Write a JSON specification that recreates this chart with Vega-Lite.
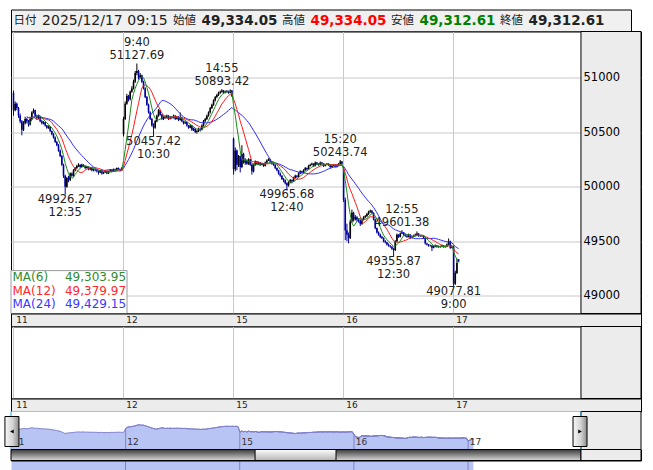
{
"$schema": "https://vega.github.io/schema/vega-lite/v6.json",
"padding": {"left": 4, "top": 8.5, "right": 0, "bottom": 0},
"background": "white",
"spacing": 0,
"bounds": "flush",
"config": {"view": {"stroke": null}, "font": "DejaVu Sans"},
"datasets": {
"hdr": [{"k":"日付","v":"2025/12/17 09:15"},{"k":"始値","v":"49,334.05"},{"k":"高値","v":"49,334.05"},{"k":"安値","v":"49,312.61"},{"k":"終値","v":"49,312.61"}],
"one": [{}],
"days": [{"i":-0.5,"d":"11"},{"i":65.5,"d":"12"},{"i":131.5,"d":"15"},{"i":197.5,"d":"16"},{"i":263.5,"d":"17"}],
"mal": [{"ma":"m6","name":"MA(6)","val":"49,303.95"},{"ma":"m12","name":"MA(12)","val":"49,379.97"},{"ma":"m24","name":"MA(24)","val":"49,429.15"}],
"ann": [{"i":74,"v":51127.69,"t":"9:40","s":"hi"},{"i":125,"v":50893.42,"t":"14:55","s":"hi"},{"i":196,"v":50243.74,"t":"15:20","s":"hi"},{"i":233,"v":49601.38,"t":"12:55","s":"hi"},{"i":31,"v":49926.27,"t":"12:35","s":"lo"},{"i":84,"v":50457.42,"t":"10:30","s":"lo"},{"i":164,"v":49965.68,"t":"12:40","s":"lo"},{"i":228,"v":49355.87,"t":"12:30","s":"lo"},{"i":264,"v":49077.81,"t":"9:00","s":"lo"}],
"k": [
{"i":0,"d":11,"o":50860,"h":50880,"l":50650,"c":50700},
{"i":1,"d":11,"o":50700,"h":50780,"l":50690,"c":50760},
{"i":2,"d":11,"o":50760,"h":50770,"l":50700,"c":50720},
{"i":3,"d":11,"o":50720,"h":50730,"l":50630,"c":50650},
{"i":4,"d":11,"o":50650,"h":50670,"l":50580,"c":50600},
{"i":5,"d":11,"o":50600,"h":50610,"l":50470,"c":50520},
{"i":6,"d":11,"o":50520,"h":50600,"l":50510,"c":50580},
{"i":7,"d":11,"o":50580,"h":50640,"l":50570,"c":50620},
{"i":8,"d":11,"o":50620,"h":50630,"l":50580,"c":50600},
{"i":9,"d":11,"o":50600,"h":50610,"l":50550,"c":50570},
{"i":10,"d":11,"o":50570,"h":50640,"l":50560,"c":50620},
{"i":11,"d":11,"o":50620,"h":50690,"l":50610,"c":50680},
{"i":12,"d":11,"o":50680,"h":50716,"l":50670,"c":50700},
{"i":13,"d":11,"o":50700,"h":50705,"l":50640,"c":50650},
{"i":14,"d":11,"o":50650,"h":50660,"l":50610,"c":50630},
{"i":15,"d":11,"o":50630,"h":50660,"l":50620,"c":50640},
{"i":16,"d":11,"o":50640,"h":50645,"l":50590,"c":50600},
{"i":17,"d":11,"o":50600,"h":50610,"l":50570,"c":50580},
{"i":18,"d":11,"o":50580,"h":50600,"l":50570,"c":50590},
{"i":19,"d":11,"o":50590,"h":50595,"l":50550,"c":50560},
{"i":20,"d":11,"o":50560,"h":50565,"l":50530,"c":50540},
{"i":21,"d":11,"o":50540,"h":50560,"l":50530,"c":50550},
{"i":22,"d":11,"o":50550,"h":50555,"l":50500,"c":50510},
{"i":23,"d":11,"o":50510,"h":50515,"l":50470,"c":50480},
{"i":24,"d":11,"o":50480,"h":50490,"l":50440,"c":50450},
{"i":25,"d":11,"o":50450,"h":50460,"l":50400,"c":50410},
{"i":26,"d":11,"o":50410,"h":50420,"l":50370,"c":50380},
{"i":27,"d":11,"o":50380,"h":50390,"l":50320,"c":50330},
{"i":28,"d":11,"o":50330,"h":50340,"l":50270,"c":50280},
{"i":29,"d":11,"o":50280,"h":50290,"l":50190,"c":50200},
{"i":30,"d":11,"o":50200,"h":50210,"l":50080,"c":50100},
{"i":31,"d":11,"o":50100,"h":50110,"l":49926.27,"c":50000},
{"i":32,"d":11,"o":50000,"h":50090,"l":49990,"c":50080},
{"i":33,"d":11,"o":50080,"h":50100,"l":50040,"c":50060},
{"i":34,"d":11,"o":50060,"h":50130,"l":50050,"c":50120},
{"i":35,"d":11,"o":50120,"h":50130,"l":50090,"c":50100},
{"i":36,"d":11,"o":50100,"h":50160,"l":50090,"c":50150},
{"i":37,"d":11,"o":50150,"h":50180,"l":50140,"c":50170},
{"i":38,"d":11,"o":50170,"h":50200,"l":50160,"c":50190},
{"i":39,"d":11,"o":50190,"h":50215,"l":50180,"c":50200},
{"i":40,"d":11,"o":50200,"h":50205,"l":50170,"c":50180},
{"i":41,"d":11,"o":50180,"h":50210,"l":50175,"c":50200},
{"i":42,"d":11,"o":50200,"h":50205,"l":50180,"c":50190},
{"i":43,"d":11,"o":50190,"h":50195,"l":50160,"c":50170},
{"i":44,"d":11,"o":50170,"h":50190,"l":50165,"c":50180},
{"i":45,"d":11,"o":50180,"h":50185,"l":50150,"c":50160},
{"i":46,"d":11,"o":50160,"h":50175,"l":50150,"c":50170},
{"i":47,"d":11,"o":50170,"h":50175,"l":50140,"c":50150},
{"i":48,"d":11,"o":50150,"h":50165,"l":50140,"c":50160},
{"i":49,"d":11,"o":50160,"h":50165,"l":50140,"c":50150},
{"i":50,"d":11,"o":50150,"h":50155,"l":50130,"c":50140},
{"i":51,"d":11,"o":50140,"h":50145,"l":50110,"c":50130},
{"i":52,"d":11,"o":50130,"h":50155,"l":50125,"c":50150},
{"i":53,"d":11,"o":50150,"h":50155,"l":50110,"c":50120},
{"i":54,"d":11,"o":50120,"h":50135,"l":50115,"c":50130},
{"i":55,"d":11,"o":50130,"h":50145,"l":50125,"c":50140},
{"i":56,"d":11,"o":50140,"h":50145,"l":50115,"c":50120},
{"i":57,"d":11,"o":50120,"h":50145,"l":50115,"c":50140},
{"i":58,"d":11,"o":50140,"h":50160,"l":50135,"c":50150},
{"i":59,"d":11,"o":50150,"h":50155,"l":50130,"c":50140},
{"i":60,"d":11,"o":50140,"h":50165,"l":50135,"c":50160},
{"i":61,"d":11,"o":50160,"h":50165,"l":50140,"c":50150},
{"i":62,"d":11,"o":50150,"h":50175,"l":50145,"c":50170},
{"i":63,"d":11,"o":50170,"h":50175,"l":50150,"c":50160},
{"i":64,"d":11,"o":50160,"h":50165,"l":50140,"c":50150},
{"i":65,"d":11,"o":50150,"h":50180,"l":50145,"c":50170},
{"i":66,"d":12,"o":50480,"h":50640,"l":50460,"c":50620},
{"i":67,"d":12,"o":50620,"h":50780,"l":50610,"c":50760},
{"i":68,"d":12,"o":50760,"h":50850,"l":50750,"c":50830},
{"i":69,"d":12,"o":50830,"h":50840,"l":50780,"c":50800},
{"i":70,"d":12,"o":50800,"h":50880,"l":50790,"c":50870},
{"i":71,"d":12,"o":50870,"h":50920,"l":50860,"c":50900},
{"i":72,"d":12,"o":50900,"h":50980,"l":50890,"c":50960},
{"i":73,"d":12,"o":50960,"h":51060,"l":50950,"c":51040},
{"i":74,"d":12,"o":51040,"h":51127.69,"l":51020,"c":51060},
{"i":75,"d":12,"o":51060,"h":51070,"l":50980,"c":51000},
{"i":76,"d":12,"o":51000,"h":51040,"l":50990,"c":51020},
{"i":77,"d":12,"o":51020,"h":51025,"l":50950,"c":50960},
{"i":78,"d":12,"o":50960,"h":50970,"l":50890,"c":50900},
{"i":79,"d":12,"o":50900,"h":50910,"l":50810,"c":50820},
{"i":80,"d":12,"o":50820,"h":50830,"l":50740,"c":50750},
{"i":81,"d":12,"o":50750,"h":50760,"l":50670,"c":50680},
{"i":82,"d":12,"o":50680,"h":50690,"l":50610,"c":50620},
{"i":83,"d":12,"o":50620,"h":50630,"l":50550,"c":50560},
{"i":84,"d":12,"o":50560,"h":50580,"l":50457.42,"c":50540},
{"i":85,"d":12,"o":50540,"h":50610,"l":50530,"c":50600},
{"i":86,"d":12,"o":50600,"h":50660,"l":50590,"c":50650},
{"i":87,"d":12,"o":50650,"h":50710,"l":50640,"c":50700},
{"i":88,"d":12,"o":50700,"h":50705,"l":50650,"c":50660},
{"i":89,"d":12,"o":50660,"h":50665,"l":50610,"c":50620},
{"i":90,"d":12,"o":50620,"h":50650,"l":50610,"c":50640},
{"i":91,"d":12,"o":50640,"h":50645,"l":50620,"c":50630},
{"i":92,"d":12,"o":50630,"h":50660,"l":50625,"c":50650},
{"i":93,"d":12,"o":50650,"h":50655,"l":50610,"c":50620},
{"i":94,"d":12,"o":50620,"h":50645,"l":50615,"c":50640},
{"i":95,"d":12,"o":50640,"h":50645,"l":50620,"c":50630},
{"i":96,"d":12,"o":50630,"h":50660,"l":50625,"c":50650},
{"i":97,"d":12,"o":50650,"h":50655,"l":50610,"c":50620},
{"i":98,"d":12,"o":50620,"h":50645,"l":50615,"c":50640},
{"i":99,"d":12,"o":50640,"h":50645,"l":50600,"c":50610},
{"i":100,"d":12,"o":50610,"h":50680,"l":50605,"c":50630},
{"i":101,"d":12,"o":50630,"h":50640,"l":50590,"c":50600},
{"i":102,"d":12,"o":50600,"h":50605,"l":50570,"c":50580},
{"i":103,"d":12,"o":50580,"h":50600,"l":50575,"c":50590},
{"i":104,"d":12,"o":50590,"h":50595,"l":50550,"c":50560},
{"i":105,"d":12,"o":50560,"h":50565,"l":50530,"c":50540},
{"i":106,"d":12,"o":50540,"h":50570,"l":50535,"c":50560},
{"i":107,"d":12,"o":50560,"h":50565,"l":50510,"c":50520},
{"i":108,"d":12,"o":50520,"h":50540,"l":50510,"c":50530},
{"i":109,"d":12,"o":50530,"h":50535,"l":50490,"c":50500},
{"i":110,"d":12,"o":50500,"h":50520,"l":50485,"c":50510},
{"i":111,"d":12,"o":50510,"h":50540,"l":50500,"c":50530},
{"i":112,"d":12,"o":50530,"h":50535,"l":50505,"c":50520},
{"i":113,"d":12,"o":50520,"h":50570,"l":50515,"c":50560},
{"i":114,"d":12,"o":50560,"h":50610,"l":50550,"c":50600},
{"i":115,"d":12,"o":50600,"h":50630,"l":50590,"c":50620},
{"i":116,"d":12,"o":50620,"h":50660,"l":50610,"c":50650},
{"i":117,"d":12,"o":50650,"h":50690,"l":50640,"c":50680},
{"i":118,"d":12,"o":50680,"h":50730,"l":50670,"c":50720},
{"i":119,"d":12,"o":50720,"h":50760,"l":50710,"c":50750},
{"i":120,"d":12,"o":50750,"h":50800,"l":50740,"c":50790},
{"i":121,"d":12,"o":50790,"h":50830,"l":50780,"c":50820},
{"i":122,"d":12,"o":50820,"h":50850,"l":50810,"c":50840},
{"i":123,"d":12,"o":50840,"h":50870,"l":50830,"c":50860},
{"i":124,"d":12,"o":50860,"h":50880,"l":50850,"c":50870},
{"i":125,"d":12,"o":50870,"h":50893.42,"l":50860,"c":50880},
{"i":126,"d":12,"o":50880,"h":50885,"l":50850,"c":50860},
{"i":127,"d":12,"o":50860,"h":50880,"l":50855,"c":50870},
{"i":128,"d":12,"o":50870,"h":50885,"l":50860,"c":50875},
{"i":129,"d":12,"o":50875,"h":50880,"l":50850,"c":50860},
{"i":130,"d":12,"o":50860,"h":50890,"l":50855,"c":50880},
{"i":131,"d":12,"o":50880,"h":50885,"l":50820,"c":50830},
{"i":132,"d":15,"o":50440,"h":50450,"l":50110,"c":50160},
{"i":133,"d":15,"o":50160,"h":50360,"l":50140,"c":50330},
{"i":134,"d":15,"o":50330,"h":50340,"l":50150,"c":50200},
{"i":135,"d":15,"o":50200,"h":50290,"l":50180,"c":50280},
{"i":136,"d":15,"o":50280,"h":50285,"l":50130,"c":50180},
{"i":137,"d":15,"o":50180,"h":50380,"l":50170,"c":50300},
{"i":138,"d":15,"o":50300,"h":50310,"l":50210,"c":50220},
{"i":139,"d":15,"o":50220,"h":50260,"l":50200,"c":50240},
{"i":140,"d":15,"o":50240,"h":50250,"l":50200,"c":50210},
{"i":141,"d":15,"o":50210,"h":50260,"l":50200,"c":50250},
{"i":142,"d":15,"o":50250,"h":50255,"l":50190,"c":50200},
{"i":143,"d":15,"o":50200,"h":50210,"l":50110,"c":50140},
{"i":144,"d":15,"o":50140,"h":50210,"l":50130,"c":50200},
{"i":145,"d":15,"o":50200,"h":50240,"l":50190,"c":50230},
{"i":146,"d":15,"o":50230,"h":50235,"l":50200,"c":50210},
{"i":147,"d":15,"o":50210,"h":50230,"l":50200,"c":50220},
{"i":148,"d":15,"o":50220,"h":50225,"l":50190,"c":50200},
{"i":149,"d":15,"o":50200,"h":50220,"l":50195,"c":50210},
{"i":150,"d":15,"o":50210,"h":50215,"l":50180,"c":50190},
{"i":151,"d":15,"o":50190,"h":50230,"l":50185,"c":50220},
{"i":152,"d":15,"o":50220,"h":50250,"l":50215,"c":50240},
{"i":153,"d":15,"o":50240,"h":50260,"l":50235,"c":50250},
{"i":154,"d":15,"o":50250,"h":50255,"l":50220,"c":50230},
{"i":155,"d":15,"o":50230,"h":50235,"l":50200,"c":50210},
{"i":156,"d":15,"o":50210,"h":50215,"l":50190,"c":50200},
{"i":157,"d":15,"o":50200,"h":50205,"l":50160,"c":50170},
{"i":158,"d":15,"o":50170,"h":50175,"l":50140,"c":50150},
{"i":159,"d":15,"o":50150,"h":50155,"l":50110,"c":50120},
{"i":160,"d":15,"o":50120,"h":50130,"l":50090,"c":50100},
{"i":161,"d":15,"o":50100,"h":50105,"l":50060,"c":50070},
{"i":162,"d":15,"o":50070,"h":50080,"l":50040,"c":50060},
{"i":163,"d":15,"o":50060,"h":50065,"l":50020,"c":50030},
{"i":164,"d":15,"o":50030,"h":50040,"l":49965.68,"c":50010},
{"i":165,"d":15,"o":50010,"h":50050,"l":50000,"c":50040},
{"i":166,"d":15,"o":50040,"h":50070,"l":50030,"c":50060},
{"i":167,"d":15,"o":50060,"h":50065,"l":50030,"c":50050},
{"i":168,"d":15,"o":50050,"h":50090,"l":50045,"c":50080},
{"i":169,"d":15,"o":50080,"h":50110,"l":50075,"c":50100},
{"i":170,"d":15,"o":50100,"h":50105,"l":50080,"c":50090},
{"i":171,"d":15,"o":50090,"h":50130,"l":50085,"c":50120},
{"i":172,"d":15,"o":50120,"h":50150,"l":50115,"c":50140},
{"i":173,"d":15,"o":50140,"h":50145,"l":50120,"c":50130},
{"i":174,"d":15,"o":50130,"h":50160,"l":50125,"c":50150},
{"i":175,"d":15,"o":50150,"h":50180,"l":50145,"c":50170},
{"i":176,"d":15,"o":50170,"h":50175,"l":50150,"c":50160},
{"i":177,"d":15,"o":50160,"h":50200,"l":50155,"c":50190},
{"i":178,"d":15,"o":50190,"h":50210,"l":50185,"c":50200},
{"i":179,"d":15,"o":50200,"h":50220,"l":50195,"c":50210},
{"i":180,"d":15,"o":50210,"h":50215,"l":50180,"c":50190},
{"i":181,"d":15,"o":50190,"h":50230,"l":50185,"c":50220},
{"i":182,"d":15,"o":50220,"h":50225,"l":50200,"c":50210},
{"i":183,"d":15,"o":50210,"h":50215,"l":50190,"c":50200},
{"i":184,"d":15,"o":50200,"h":50230,"l":50195,"c":50220},
{"i":185,"d":15,"o":50220,"h":50225,"l":50200,"c":50210},
{"i":186,"d":15,"o":50210,"h":50215,"l":50180,"c":50190},
{"i":187,"d":15,"o":50190,"h":50205,"l":50185,"c":50200},
{"i":188,"d":15,"o":50200,"h":50215,"l":50195,"c":50210},
{"i":189,"d":15,"o":50210,"h":50215,"l":50190,"c":50200},
{"i":190,"d":15,"o":50200,"h":50205,"l":50170,"c":50180},
{"i":191,"d":15,"o":50180,"h":50195,"l":50175,"c":50190},
{"i":192,"d":15,"o":50190,"h":50205,"l":50185,"c":50200},
{"i":193,"d":15,"o":50200,"h":50205,"l":50175,"c":50180},
{"i":194,"d":15,"o":50180,"h":50205,"l":50175,"c":50200},
{"i":195,"d":15,"o":50200,"h":50215,"l":50195,"c":50210},
{"i":196,"d":15,"o":50210,"h":50243.74,"l":50205,"c":50230},
{"i":197,"d":15,"o":50230,"h":50235,"l":50200,"c":50210},
{"i":198,"d":16,"o":50160,"h":50180,"l":49860,"c":49880},
{"i":199,"d":16,"o":49880,"h":49900,"l":49510,"c":49600},
{"i":200,"d":16,"o":49600,"h":49660,"l":49500,"c":49560},
{"i":201,"d":16,"o":49560,"h":49580,"l":49480,"c":49530},
{"i":202,"d":16,"o":49530,"h":49700,"l":49520,"c":49680},
{"i":203,"d":16,"o":49680,"h":49790,"l":49670,"c":49760},
{"i":204,"d":16,"o":49760,"h":49770,"l":49680,"c":49700},
{"i":205,"d":16,"o":49700,"h":49740,"l":49690,"c":49720},
{"i":206,"d":16,"o":49720,"h":49730,"l":49680,"c":49700},
{"i":207,"d":16,"o":49700,"h":49710,"l":49670,"c":49690},
{"i":208,"d":16,"o":49690,"h":49700,"l":49640,"c":49660},
{"i":209,"d":16,"o":49660,"h":49710,"l":49650,"c":49700},
{"i":210,"d":16,"o":49700,"h":49730,"l":49690,"c":49720},
{"i":211,"d":16,"o":49720,"h":49740,"l":49710,"c":49730},
{"i":212,"d":16,"o":49730,"h":49760,"l":49720,"c":49750},
{"i":213,"d":16,"o":49750,"h":49780,"l":49740,"c":49770},
{"i":214,"d":16,"o":49770,"h":49790,"l":49760,"c":49780},
{"i":215,"d":16,"o":49780,"h":49785,"l":49750,"c":49760},
{"i":216,"d":16,"o":49760,"h":49765,"l":49690,"c":49700},
{"i":217,"d":16,"o":49700,"h":49705,"l":49610,"c":49620},
{"i":218,"d":16,"o":49620,"h":49625,"l":49570,"c":49580},
{"i":219,"d":16,"o":49580,"h":49590,"l":49550,"c":49560},
{"i":220,"d":16,"o":49560,"h":49570,"l":49530,"c":49540},
{"i":221,"d":16,"o":49540,"h":49550,"l":49520,"c":49530},
{"i":222,"d":16,"o":49530,"h":49535,"l":49490,"c":49500},
{"i":223,"d":16,"o":49500,"h":49510,"l":49480,"c":49490},
{"i":224,"d":16,"o":49490,"h":49495,"l":49460,"c":49470},
{"i":225,"d":16,"o":49470,"h":49480,"l":49450,"c":49460},
{"i":226,"d":16,"o":49460,"h":49465,"l":49440,"c":49450},
{"i":227,"d":16,"o":49450,"h":49455,"l":49420,"c":49430},
{"i":228,"d":16,"o":49430,"h":49440,"l":49355.87,"c":49420},
{"i":229,"d":16,"o":49420,"h":49510,"l":49410,"c":49500},
{"i":230,"d":16,"o":49500,"h":49570,"l":49490,"c":49560},
{"i":231,"d":16,"o":49560,"h":49565,"l":49530,"c":49540},
{"i":232,"d":16,"o":49540,"h":49580,"l":49535,"c":49570},
{"i":233,"d":16,"o":49570,"h":49601.38,"l":49565,"c":49580},
{"i":234,"d":16,"o":49580,"h":49585,"l":49550,"c":49560},
{"i":235,"d":16,"o":49560,"h":49565,"l":49540,"c":49550},
{"i":236,"d":16,"o":49550,"h":49555,"l":49530,"c":49540},
{"i":237,"d":16,"o":49540,"h":49570,"l":49535,"c":49560},
{"i":238,"d":16,"o":49560,"h":49565,"l":49520,"c":49530},
{"i":239,"d":16,"o":49530,"h":49550,"l":49525,"c":49540},
{"i":240,"d":16,"o":49540,"h":49560,"l":49535,"c":49550},
{"i":241,"d":16,"o":49550,"h":49570,"l":49545,"c":49560},
{"i":242,"d":16,"o":49560,"h":49590,"l":49555,"c":49570},
{"i":243,"d":16,"o":49570,"h":49575,"l":49540,"c":49550},
{"i":244,"d":16,"o":49550,"h":49560,"l":49540,"c":49550},
{"i":245,"d":16,"o":49550,"h":49560,"l":49540,"c":49550},
{"i":246,"d":16,"o":49550,"h":49555,"l":49520,"c":49530},
{"i":247,"d":16,"o":49530,"h":49535,"l":49470,"c":49480},
{"i":248,"d":16,"o":49480,"h":49485,"l":49460,"c":49470},
{"i":249,"d":16,"o":49470,"h":49475,"l":49450,"c":49460},
{"i":250,"d":16,"o":49460,"h":49470,"l":49450,"c":49460},
{"i":251,"d":16,"o":49460,"h":49465,"l":49410,"c":49440},
{"i":252,"d":16,"o":49440,"h":49460,"l":49435,"c":49450},
{"i":253,"d":16,"o":49450,"h":49470,"l":49445,"c":49460},
{"i":254,"d":16,"o":49460,"h":49465,"l":49440,"c":49450},
{"i":255,"d":16,"o":49450,"h":49460,"l":49440,"c":49450},
{"i":256,"d":16,"o":49450,"h":49460,"l":49440,"c":49450},
{"i":257,"d":16,"o":49450,"h":49470,"l":49445,"c":49460},
{"i":258,"d":16,"o":49460,"h":49465,"l":49440,"c":49450},
{"i":259,"d":16,"o":49450,"h":49460,"l":49440,"c":49450},
{"i":260,"d":16,"o":49450,"h":49480,"l":49445,"c":49470},
{"i":261,"d":16,"o":49470,"h":49525,"l":49465,"c":49500},
{"i":262,"d":16,"o":49500,"h":49505,"l":49430,"c":49440},
{"i":263,"d":16,"o":49440,"h":49460,"l":49435,"c":49450},
{"i":264,"d":17,"o":49450,"h":49460,"l":49077.81,"c":49110},
{"i":265,"d":17,"o":49110,"h":49230,"l":49100,"c":49210},
{"i":266,"d":17,"o":49210,"h":49340,"l":49200,"c":49301},
{"i":267,"d":17,"o":49334.05,"h":49334.05,"l":49312.61,"c":49312.61}
]
},
"vconcat": [
{
"width": 620, "height": 22,
"view": {"fill": "#f0f0f0", "stroke": "#000", "strokeWidth": 1},
"data": {"name": "hdr"},
"encoding": {"x": {"field": "k", "type": "nominal", "scale": {"type": "point", "domain": ["日付","始値","高値","安値","終値"], "padding": 0.844, "align": 0.288}, "axis": null}},
"layer": [
{"transform": [{"filter": "datum.k != '日付'"}], "mark": {"type": "text", "align": "left", "baseline": "middle", "font": "Noto Sans CJK JP", "fontSize": 11.5, "color": "#222"}, "encoding": {"text": {"field": "k"}}},
{"transform": [{"filter": "datum.k != '日付'"}], "mark": {"type": "text", "align": "left", "baseline": "middle", "font": "DejaVu Sans", "fontSize": 13.5, "fontWeight": "bold", "dx": 28.5}, "encoding": {"text": {"field": "v"}, "color": {"field": "k", "type": "nominal", "scale": {"domain": ["始値","高値","安値","終値"], "range": ["#222222","#ff0000","#008000","#222222"]}, "legend": null}}},
{"transform": [{"filter": "datum.k == '日付'"}], "mark": {"type": "text", "align": "left", "baseline": "middle", "font": "Noto Sans CJK JP", "fontSize": 11.5, "color": "#222", "dx": -50.4}, "encoding": {"text": {"field": "k"}}},
{"transform": [{"filter": "datum.k == '日付'"}], "mark": {"type": "text", "align": "left", "baseline": "middle", "font": "DejaVu Sans", "fontSize": 14, "color": "#222", "dx": -21.9}, "encoding": {"text": {"field": "v"}}}
]
},
{
"width": 630, "height": 282,
"view": {"fill": "white", "stroke": "#000", "strokeWidth": 1},
"resolve": {"axis": {"y": "independent"}},
"layer": [
{"data": {"name": "k"}, "mark": {"type": "rule", "strokeWidth": 1},
 "encoding": {
  "x": {"field": "i", "type": "quantitative", "scale": {"domain": [-1.5, 376.4], "nice": false, "zero": false}, "axis": {"orient": "bottom", "values": [-0.5, 65.5, 131.5, 197.5, 263.5], "grid": true, "gridColor": "#c8c8c8", "labels": false, "ticks": false, "domain": false, "title": null}},
  "y": {"field": "l", "type": "quantitative", "scale": {"domain": [48838, 51421], "nice": false, "zero": false}, "axis": {"orient": "left", "values": [49000, 49500, 50000, 50500, 51000], "grid": true, "gridColor": "#c8c8c8", "labels": false, "ticks": false, "domain": false, "title": null}},
  "y2": {"field": "h"},
  "color": {"condition": {"test": "datum.c >= datum.o", "value": "#000000"}, "value": "#0000a0"}
 }},
{"data": {"name": "k"}, "mark": {"type": "rule", "strokeWidth": 1.6},
 "encoding": {
  "x": {"field": "i", "type": "quantitative"},
  "y": {"field": "o", "type": "quantitative", "axis": null},
  "y2": {"field": "c"},
  "color": {"condition": {"test": "datum.c >= datum.o", "value": "#000000"}, "value": "#0000a0"}
 }},
{"data": {"name": "k"},
 "transform": [
  {"window": [{"op": "mean", "field": "c", "as": "m24"}], "frame": [-23, 0], "sort": [{"field": "i"}]},
  {"filter": "datum.i >= 8"}
 ],
 "mark": {"type": "line", "strokeWidth": 1, "color": "#2a2aff"},
 "encoding": {"x": {"field": "i", "type": "quantitative"}, "y": {"field": "m24", "type": "quantitative", "axis": null}}},
{"data": {"name": "k"},
 "transform": [
  {"window": [{"op": "mean", "field": "c", "as": "m12"}], "frame": [-11, 0], "sort": [{"field": "i"}]},
  {"filter": "datum.i >= 8"}
 ],
 "mark": {"type": "line", "strokeWidth": 1, "color": "#ff1a1a"},
 "encoding": {"x": {"field": "i", "type": "quantitative"}, "y": {"field": "m12", "type": "quantitative", "axis": null}}},
{"data": {"name": "k"},
 "transform": [
  {"window": [{"op": "mean", "field": "c", "as": "m6"}], "frame": [-5, 0], "sort": [{"field": "i"}]},
  {"filter": "datum.i >= 8"}
 ],
 "mark": {"type": "line", "strokeWidth": 1, "color": "#1a8a1a"},
 "encoding": {"x": {"field": "i", "type": "quantitative"}, "y": {"field": "m6", "type": "quantitative", "axis": null}}},
{"data": {"name": "ann"}, "transform": [{"filter": "datum.s == 'hi'"}],
 "mark": {"type": "text", "align": "center", "baseline": "middle", "fontSize": 11.5, "color": "#222", "dy": -7.5},
 "encoding": {"x": {"field": "i", "type": "quantitative"}, "y": {"field": "v", "type": "quantitative", "axis": null}, "text": {"field": "v", "type": "quantitative", "format": ".2f"}}},
{"data": {"name": "ann"}, "transform": [{"filter": "datum.s == 'hi'"}],
 "mark": {"type": "text", "align": "center", "baseline": "middle", "fontSize": 11.5, "color": "#222", "dy": -20.5},
 "encoding": {"x": {"field": "i", "type": "quantitative"}, "y": {"field": "v", "type": "quantitative", "axis": null}, "text": {"field": "t"}}},
{"data": {"name": "ann"}, "transform": [{"filter": "datum.s == 'lo'"}],
 "mark": {"type": "text", "align": "center", "baseline": "middle", "fontSize": 11.5, "color": "#222", "dy": 5},
 "encoding": {"x": {"field": "i", "type": "quantitative"}, "y": {"field": "v", "type": "quantitative", "axis": null}, "text": {"field": "v", "type": "quantitative", "format": ".2f"}}},
{"data": {"name": "ann"}, "transform": [{"filter": "datum.s == 'lo'"}],
 "mark": {"type": "text", "align": "center", "baseline": "middle", "fontSize": 11.5, "color": "#222", "dy": 18},
 "encoding": {"x": {"field": "i", "type": "quantitative"}, "y": {"field": "v", "type": "quantitative", "axis": null}, "text": {"field": "t"}}},
{"data": {"name": "one"}, "mark": {"type": "rect", "color": "#ffffff", "stroke": "#9a9a9a", "strokeWidth": 1},
 "encoding": {"x": {"datum": -1.5, "type": "quantitative"}, "x2": {"datum": 68.1}, "y": {"datum": 49231, "type": "quantitative", "axis": null}, "y2": {"datum": 48838}}},
{"data": {"name": "mal"}, "transform": [{"filter": "datum.ma == 'm6'"}],
 "encoding": {"y": {"datum": 49176, "type": "quantitative", "axis": null}},
 "layer": [
  {"mark": {"type": "text", "align": "left", "baseline": "middle", "fontSize": 12, "color": "#2e8b2e"}, "encoding": {"x": {"datum": -0.6, "type": "quantitative"}, "text": {"field": "name"}}},
  {"mark": {"type": "text", "align": "right", "baseline": "middle", "fontSize": 12, "color": "#2e8b2e"}, "encoding": {"x": {"datum": 67.5, "type": "quantitative"}, "text": {"field": "val"}}}
 ]},
{"data": {"name": "mal"}, "transform": [{"filter": "datum.ma == 'm12'"}],
 "encoding": {"y": {"datum": 49048, "type": "quantitative", "axis": null}},
 "layer": [
  {"mark": {"type": "text", "align": "left", "baseline": "middle", "fontSize": 12, "color": "#ff2a2a"}, "encoding": {"x": {"datum": -0.6, "type": "quantitative"}, "text": {"field": "name"}}},
  {"mark": {"type": "text", "align": "right", "baseline": "middle", "fontSize": 12, "color": "#ff2a2a"}, "encoding": {"x": {"datum": 67.5, "type": "quantitative"}, "text": {"field": "val"}}}
 ]},
{"data": {"name": "mal"}, "transform": [{"filter": "datum.ma == 'm24'"}],
 "encoding": {"y": {"datum": 48924, "type": "quantitative", "axis": null}},
 "layer": [
  {"mark": {"type": "text", "align": "left", "baseline": "middle", "fontSize": 12, "color": "#3a3aff"}, "encoding": {"x": {"datum": -0.6, "type": "quantitative"}, "text": {"field": "name"}}},
  {"mark": {"type": "text", "align": "right", "baseline": "middle", "fontSize": 12, "color": "#3a3aff"}, "encoding": {"x": {"datum": 67.5, "type": "quantitative"}, "text": {"field": "val"}}}
 ]},
{"data": {"name": "one"}, "mark": {"type": "rect", "color": "#ececec", "stroke": "#000", "strokeWidth": 1},
 "encoding": {"x": {"datum": 340.4, "type": "quantitative"}, "x2": {"datum": 376.4},
  "y": {"datum": 48838, "type": "quantitative", "axis": {"orient": "right", "offset": -60, "values": [49000, 49500, 50000, 50500, 51000], "format": "d", "grid": false, "ticks": false, "tickSize": 0, "domain": false, "labelPadding": 2, "labelFontSize": 11.5, "labelColor": "#000", "labelFont": "DejaVu Sans", "labelBaseline": "middle", "zindex": 1, "title": null}},
  "y2": {"datum": 51421}}}
]
},
{
"width": 630, "height": 13,
"view": {"fill": "#ececec", "stroke": "#000", "strokeWidth": 1},
"data": {"name": "days"},
"mark": {"type": "text", "align": "left", "baseline": "middle", "dx": 3.5, "fontSize": 9, "color": "#222"},
"encoding": {"x": {"field": "i", "type": "quantitative", "scale": {"domain": [-1.5, 376.4], "nice": false, "zero": false}, "axis": null}, "text": {"field": "d"}}
},
{
"width": 630, "height": 72,
"view": {"fill": "white", "stroke": "#000", "strokeWidth": 1},
"data": {"name": "one"},
"mark": {"type": "rect", "color": "#ececec", "stroke": "#000", "strokeWidth": 1},
"encoding": {
 "x": {"datum": 340.4, "type": "quantitative", "scale": {"domain": [-1.5, 376.4], "nice": false, "zero": false}, "axis": {"orient": "bottom", "values": [-0.5, 65.5, 131.5, 197.5, 263.5], "grid": true, "gridColor": "#c8c8c8", "labels": false, "ticks": false, "domain": false, "title": null}},
 "x2": {"datum": 376.4},
 "y": {"datum": 0, "type": "quantitative", "scale": {"domain": [0, 1], "nice": false}, "axis": null},
 "y2": {"datum": 1}}
},
{
"width": 630, "height": 13,
"view": {"fill": "#ececec", "stroke": "#000", "strokeWidth": 1},
"data": {"name": "days"},
"mark": {"type": "text", "align": "left", "baseline": "middle", "dx": 3.5, "fontSize": 9, "color": "#222"},
"encoding": {"x": {"field": "i", "type": "quantitative", "scale": {"domain": [-1.5, 376.4], "nice": false, "zero": false}, "axis": null}, "text": {"field": "d"}}
},
{
"width": 630, "height": 38,
"view": {"fill": "white", "stroke": null},
"layer": [
{"data": {"name": "k"}, "mark": {"type": "area", "color": "#b8c4f4", "opacity": 1, "line": {"color": "#8080c8", "strokeWidth": 1}},
 "encoding": {
  "x": {"field": "i", "type": "quantitative", "scale": {"domain": [-0.29, 363.9], "nice": false, "zero": false}, "axis": null},
  "y": {"field": "c", "type": "quantitative", "scale": {"domain": [48096, 52648], "nice": false, "zero": false}, "axis": null},
  "detail": {"field": "d"}}},
{"data": {"name": "days"}, "mark": {"type": "text", "align": "left", "baseline": "middle", "dx": 2.5, "fontSize": 9, "color": "#333"},
 "encoding": {"x": {"field": "i", "type": "quantitative"}, "y": {"datum": 49054, "type": "quantitative"}, "text": {"field": "d"}}},
{"data": {"name": "one"}, "mark": {"type": "rect", "color": "#ececec", "stroke": "#000", "strokeWidth": 1},
 "encoding": {"x": {"datum": 329.2, "type": "quantitative"}, "x2": {"datum": 363.9}, "y": {"datum": 48096, "type": "quantitative"}, "y2": {"datum": 52648}}},
{"data": {"name": "one"}, "mark": {"type": "rule", "color": "#20a8e0", "strokeWidth": 1},
 "encoding": {"x": {"datum": -0.29, "type": "quantitative"}, "y": {"datum": 48096, "type": "quantitative"}, "y2": {"datum": 52648}}},
{"data": {"name": "one"}, "mark": {"type": "rule", "color": "#20a8e0", "strokeWidth": 1},
 "encoding": {"x": {"datum": 329.2, "type": "quantitative"}, "y": {"datum": 48096, "type": "quantitative"}, "y2": {"datum": 52648}}},
{"data": {"name": "one"}, "mark": {"type": "rect", "stroke": "#000", "strokeWidth": 1, "fill": {"gradient": "linear", "x1": 0, "y1": 0, "x2": 1, "y2": 0, "stops": [{"offset": 0, "color": "#f6f6f6"}, {"offset": 0.55, "color": "#d4d4d4"}, {"offset": 1, "color": "#8c8c8c"}]}},
 "encoding": {"x": {"datum": -3.8, "type": "quantitative"}, "x2": {"datum": 4.3}, "y": {"datum": 48455, "type": "quantitative"}, "y2": {"datum": 52049}}},
{"data": {"name": "one"}, "mark": {"type": "rect", "stroke": "#000", "strokeWidth": 1, "fill": {"gradient": "linear", "x1": 0, "y1": 0, "x2": 1, "y2": 0, "stops": [{"offset": 0, "color": "#f6f6f6"}, {"offset": 0.55, "color": "#d4d4d4"}, {"offset": 1, "color": "#8c8c8c"}]}},
 "encoding": {"x": {"datum": 324.6, "type": "quantitative"}, "x2": {"datum": 332.7}, "y": {"datum": 48455, "type": "quantitative"}, "y2": {"datum": 52049}}},
{"data": {"name": "one"}, "mark": {"type": "point", "shape": "triangle-left", "filled": true, "color": "#000", "size": 18, "opacity": 1},
 "encoding": {"x": {"datum": 0.25, "type": "quantitative"}, "y": {"datum": 50252, "type": "quantitative"}}},
{"data": {"name": "one"}, "mark": {"type": "point", "shape": "triangle-right", "filled": true, "color": "#000", "size": 18, "opacity": 1},
 "encoding": {"x": {"datum": 328.65, "type": "quantitative"}, "y": {"datum": 50252, "type": "quantitative"}}}
]
},
{
"width": 630, "height": 11,
"view": {"fill": "white", "stroke": "#000", "strokeWidth": 1},
"layer": [
{"data": {"name": "one"}, "mark": {"type": "rect", "stroke": "#000", "strokeWidth": 1, "fill": {"gradient": "linear", "x1": 0, "y1": 0, "x2": 0, "y2": 1, "stops": [{"offset": 0, "color": "#3a3a3a"}, {"offset": 1, "color": "#d8d8d8"}]}},
 "encoding": {"x": {"datum": -0.29, "type": "quantitative", "scale": {"domain": [-0.29, 363.9], "nice": false, "zero": false}, "axis": null}, "x2": {"datum": 329.2}, "y": {"datum": 0, "type": "quantitative", "scale": {"domain": [0, 1], "nice": false}, "axis": null}, "y2": {"datum": 1}}},
{"data": {"name": "one"}, "mark": {"type": "rect", "stroke": "#000", "strokeWidth": 1, "fill": {"gradient": "linear", "x1": 0, "y1": 0, "x2": 0, "y2": 1, "stops": [{"offset": 0, "color": "#ffffff"}, {"offset": 1, "color": "#b4b4b4"}]}},
 "encoding": {"x": {"datum": 140.8, "type": "quantitative"}, "x2": {"datum": 187.6}, "y": {"datum": 0, "type": "quantitative"}, "y2": {"datum": 1}}},
{"data": {"name": "one"}, "mark": {"type": "rect", "color": "#ececec", "stroke": "#000", "strokeWidth": 1},
 "encoding": {"x": {"datum": 329.2, "type": "quantitative"}, "x2": {"datum": 363.9}, "y": {"datum": 0, "type": "quantitative"}, "y2": {"datum": 1}}}
]
}
]
}
